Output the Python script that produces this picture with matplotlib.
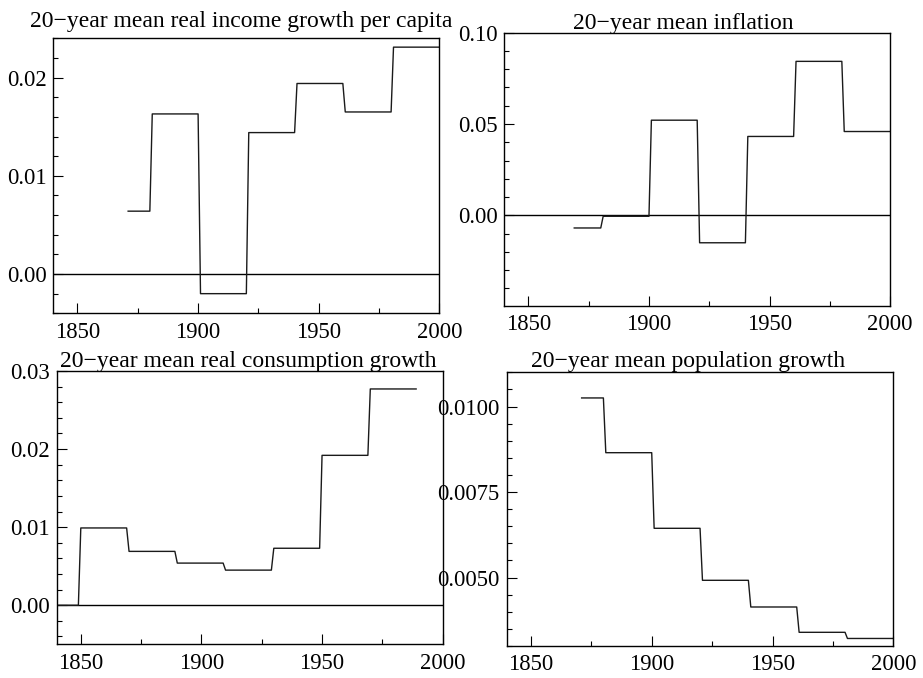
import numpy as np
import matplotlib
matplotlib.use("Agg")
import matplotlib.pyplot as plt
from matplotlib.ticker import MultipleLocator, FormatStrFormatter

plt.rcParams['font.family'] = ['Liberation Serif', 'DejaVu Serif']
plt.rcParams['font.size'] = 16.3

# 20-year block means, held constant over each block of annual observations
income_start = [1871, 1881, 1901, 1921, 1941, 1961, 1981]
income_end = [1880, 1900, 1920, 1940, 1960, 1980, 2000]
income_val = [0.0064, 0.0163, -0.0020, 0.0144, 0.0194, 0.0165, 0.0231]

infl_start = [1869, 1881, 1901, 1921, 1941, 1961, 1981]
infl_end = [1880, 1900, 1920, 1940, 1960, 1980, 2000]
infl_val = [-0.0069, -0.0005, 0.0521, -0.0150, 0.0432, 0.0843, 0.0459]

cons_start = [1840, 1850, 1870, 1890, 1910, 1930, 1950, 1970]
cons_end = [1849, 1869, 1889, 1909, 1929, 1949, 1969, 1989]
cons_val = [0.0, 0.0099, 0.0069, 0.0054, 0.0045, 0.0073, 0.0192, 0.0277]

pop_start = [1871, 1881, 1901, 1921, 1941, 1961, 1981]
pop_end = [1880, 1900, 1920, 1940, 1960, 1980, 2000]
pop_val = [0.01025, 0.00865, 0.00644, 0.00492, 0.00414, 0.00340, 0.00322]


def annual(starts, ends, vals):
    years = np.arange(starts[0], ends[-1] + 1)
    counts = [e - s + 1 for s, e in zip(starts, ends)]
    return years, np.repeat(vals, counts)


panels = [
    # title, data, axes rect, ylim, major, minor, fmt, zero line, title x, title y
    ("20\u2212year mean real income growth per capita",
     annual(income_start, income_end, income_val),
     [0.0578, 0.5379, 0.4182, 0.4056], (-0.004, 0.024), 0.01, 0.002, '%.2f', True, 0.486, 1.040),
    ("20\u2212year mean inflation",
     annual(infl_start, infl_end, infl_val),
     [0.5464, 0.5487, 0.4179, 0.4031], (-0.0496, 0.10), 0.05, 0.01, '%.2f', True, 0.465, 1.012),
    ("20\u2212year mean real consumption growth",
     annual(cons_start, cons_end, cons_val),
     [0.0614, 0.0497, 0.4182, 0.4031], (-0.005, 0.03), 0.01, 0.002, '%.2f', True, 0.496, 1.016),
    ("20\u2212year mean population growth",
     annual(pop_start, pop_end, pop_val),
     [0.5490, 0.0472, 0.4189, 0.4037], (0.003, 0.011), 0.0025, 0.0005, '%.4f', False, 0.468, 1.020),
]

fig = plt.figure(figsize=(9.23, 6.78), dpi=100)

for title, (yrs, vals), rect, ylim, major, minor, fmt, zero, tx, ty in panels:
    ax = fig.add_axes(rect)
    if zero:
        ax.axhline(0.0, color='black', lw=1.0)
    ax.plot(yrs, vals, color='#1a1a1a', lw=1.0)
    ax.set_xlim(1840, 2000)
    ax.set_ylim(*ylim)
    ax.xaxis.set_major_locator(MultipleLocator(50))
    ax.xaxis.set_minor_locator(MultipleLocator(25))
    ax.yaxis.set_major_locator(MultipleLocator(major))
    ax.yaxis.set_minor_locator(MultipleLocator(minor))
    ax.yaxis.set_major_formatter(FormatStrFormatter(fmt))
    ax.tick_params(which='both', direction='in', top=False, right=False, width=0.8)
    ax.tick_params(which='major', length=7)
    ax.tick_params(which='minor', length=3.5)
    ax.tick_params(axis='x', pad=6)
    ax.tick_params(axis='y', pad=5)
    for sp in ax.spines.values():
        sp.set_linewidth(1.0)
    ax.text(tx, ty, title, transform=ax.transAxes, ha='center', va='baseline',
            fontsize=17)

fig.savefig("out.png", dpi=100)
